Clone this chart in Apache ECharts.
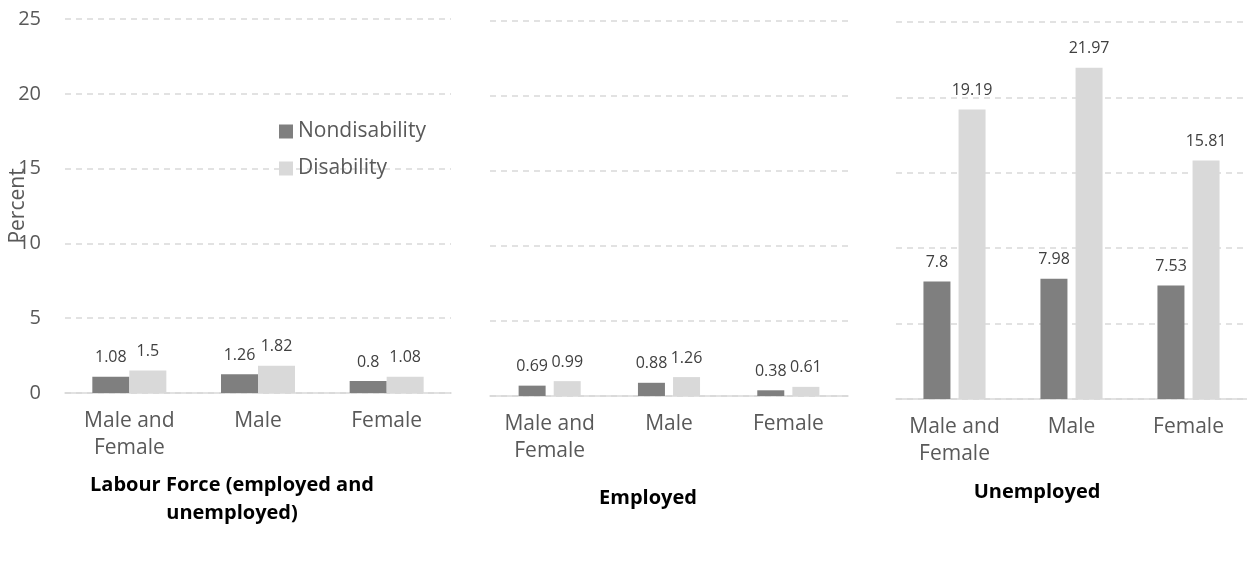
<!DOCTYPE html>
<html>
<head>
<meta charset="utf-8">
<script src="https://cdn.jsdelivr.net/npm/echarts@6/dist/echarts.min.js"></script>
<style>
  html, body { margin: 0; padding: 0; background: #fff; }
  #chart { width: 1247px; height: 567px; }
</style>
</head>
<body>
<div id="chart"></div>
<script>
// categories and values
var categories = ['Male and\nFemale', 'Male', 'Female'];
var labourNon = [1.08, 1.26, 0.8];
var labourDis = [1.5, 1.82, 1.08];
var employedNon = [0.69, 0.88, 0.38];
var employedDis = [0.99, 1.26, 0.61];
var unemployedNon = [7.8, 7.98, 7.53];
var unemployedDis = [19.19, 21.97, 15.81];
var yTicks = [0, 5, 10, 15, 20, 25];

var FONT = 'Open Sans';
var DARK = '#7f7f7f';
var LIGHT = '#d9d9d9';

var chart = echarts.init(document.getElementById('chart'));

function xAxis(i) {
    return {
        type: 'category',
        gridIndex: i,
        data: categories,
        axisTick: { show: false },
        axisLine: { lineStyle: { color: '#d9d9d9', width: 1.5 } },
        axisLabel: {
            color: '#595959', fontSize: 21, fontFamily: FONT, margin: 15, lineHeight: 27,
            interval: 0, hideOverlap: false
        }
    };
}

function yAxis(i, showLabels) {
    var ax = {
        type: 'value',
        gridIndex: i,
        min: yTicks[0],
        max: yTicks[yTicks.length - 1],
        interval: 5,
        axisLine: { show: false },
        axisTick: { show: false },
        axisLabel: { show: showLabels, color: '#595959', fontSize: 20, fontFamily: FONT, margin: 24 },
        splitLine: { lineStyle: { color: '#d9d9d9', type: [6, 5], width: 1.5 } }
    };
    if (showLabels) {
        ax.name = 'Percent';
        ax.nameLocation = 'middle';
        ax.nameGap = 36;
        ax.nameMoveOverlap = false;
        ax.nameTextStyle = { color: '#595959', fontSize: 21, fontFamily: FONT };
    }
    return ax;
}

function bars(name, data, i, color, width, gap) {
    return {
        name: name,
        type: 'bar',
        xAxisIndex: i,
        yAxisIndex: i,
        data: data,
        barWidth: width,
        barGap: gap,
        itemStyle: { color: color },
        label: {
            show: true,
            position: 'top',
            distance: 11,
            color: '#404040',
            fontSize: 16,
            fontFamily: FONT
        }
    };
}

var option = {
    animation: false,
    grid: [
        { left: 65, top: 19, width: 386, height: 374 },
        { left: 490, top: 21, width: 358, height: 375 },
        { left: 896, top: 22, width: 365, height: 377 }
    ],
    legend: {
        data: ['Nondisability', 'Disability'],
        orient: 'vertical',
        left: 274,
        top: 116,
        itemWidth: 14,
        itemHeight: 14,
        itemGap: 16,
        icon: 'rect',
        textStyle: { color: '#595959', fontSize: 21, fontFamily: FONT }
    },
    xAxis: [xAxis(0), xAxis(1), xAxis(2)],
    yAxis: [yAxis(0, true), yAxis(1, false), yAxis(2, false)],
    series: [
        bars('Nondisability', labourNon, 0, DARK, 37, '0%'),
        bars('Disability', labourDis, 0, LIGHT, 37, '0%'),
        bars('Nondisability', employedNon, 1, DARK, 27, '30%'),
        bars('Disability', employedDis, 1, LIGHT, 27, '30%'),
        bars('Nondisability', unemployedNon, 2, DARK, 27, '30%'),
        bars('Disability', unemployedDis, 2, LIGHT, 27, '30%')
    ],
    graphic: [
        {
            type: 'text', x: 232, y: 499,
            style: {
                text: 'Labour Force (employed and\nunemployed)',
                fill: '#000', fontSize: 20, fontWeight: 'bold', fontFamily: FONT,
                align: 'center', verticalAlign: 'middle', lineHeight: 28
            }
        },
        {
            type: 'text', x: 648, y: 498,
            style: {
                text: 'Employed',
                fill: '#000', fontSize: 20, fontWeight: 'bold', fontFamily: FONT,
                align: 'center', verticalAlign: 'middle'
            }
        },
        {
            type: 'text', x: 1037, y: 492,
            style: {
                text: 'Unemployed',
                fill: '#000', fontSize: 20, fontWeight: 'bold', fontFamily: FONT,
                align: 'center', verticalAlign: 'middle'
            }
        }
    ]
};

chart.setOption(option);
</script>
</body>
</html>
